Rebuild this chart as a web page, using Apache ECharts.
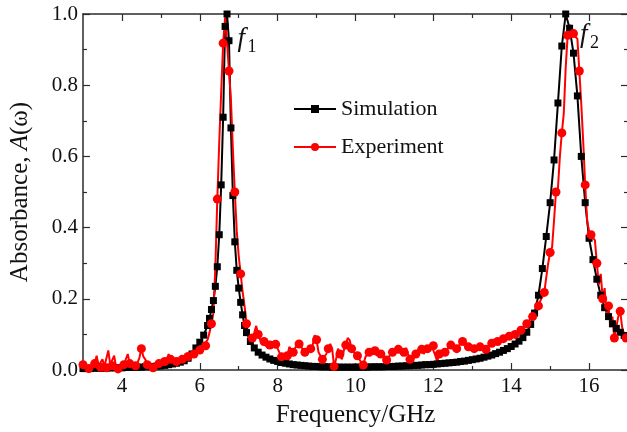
<!DOCTYPE html>
<html>
<head>
<meta charset="utf-8">
<script src="https://cdn.jsdelivr.net/npm/echarts@6/dist/echarts.min.js"></script>
<style>
  html, body { margin: 0; padding: 0; background: #fff; }
  #chart { width: 627px; height: 432px; }
</style>
</head>
<body>
<div id="chart"></div>
<script>
// Simulated absorbance spectrum (frequency in GHz, absorbance 0..1)
const simFreq = [
  3.0, 3.1, 3.2, 3.3, 3.4, 3.5, 3.6, 3.7, 3.8, 3.9,
  4.0, 4.1, 4.2, 4.3, 4.4, 4.5, 4.6, 4.7, 4.8, 4.9,
  5.0, 5.1, 5.2, 5.3, 5.4, 5.5, 5.6, 5.7, 5.8, 5.9,
  6.0, 6.1, 6.2, 6.25, 6.3, 6.35, 6.4, 6.45, 6.5, 6.55, 6.6, 6.65, 6.7, 6.75, 6.8, 6.85, 6.9, 6.95, 7.0, 7.05, 7.1, 7.15, 7.2,
  7.3, 7.4, 7.5, 7.6, 7.7, 7.8, 7.9,
  8.0, 8.1, 8.2, 8.3, 8.4, 8.5, 8.6, 8.7, 8.8, 8.9,
  9.0, 9.1, 9.2, 9.3, 9.4, 9.5, 9.6, 9.7, 9.8, 9.9,
  10.0, 10.1, 10.2, 10.3, 10.4, 10.5, 10.6, 10.7, 10.8, 10.9,
  11.0, 11.1, 11.2, 11.3, 11.4, 11.5, 11.6, 11.7, 11.8, 11.9,
  12.0, 12.1, 12.2, 12.3, 12.4, 12.5, 12.6, 12.7, 12.8, 12.9,
  13.0, 13.1, 13.2, 13.3, 13.4, 13.5, 13.6, 13.7, 13.8, 13.9,
  14.0, 14.1, 14.2, 14.3, 14.4, 14.5, 14.6, 14.7, 14.8, 14.9,
  15.0, 15.1, 15.2, 15.3, 15.4, 15.5, 15.6, 15.7, 15.8, 15.9,
  16.0, 16.1, 16.2, 16.3, 16.4, 16.5, 16.6, 16.7, 16.8, 16.9,
  17.0
];
const simAbs = [
  0.004, 0.004, 0.004, 0.005, 0.005, 0.005, 0.005, 0.006, 0.006, 0.006,
  0.006, 0.007, 0.007, 0.007, 0.008, 0.008, 0.009, 0.010, 0.010, 0.011,
  0.012, 0.013, 0.015, 0.017, 0.019, 0.022, 0.026, 0.033, 0.045, 0.062,
  0.078, 0.098, 0.125, 0.145, 0.170, 0.195, 0.235, 0.290, 0.380, 0.520, 0.710, 0.965, 1.000, 0.925, 0.680, 0.490, 0.360, 0.280, 0.230, 0.190, 0.155, 0.125, 0.105,
  0.080, 0.062, 0.050, 0.042, 0.036, 0.031, 0.027,
  0.024, 0.021, 0.019, 0.017, 0.015, 0.014, 0.013, 0.012, 0.011, 0.010,
  0.010, 0.009, 0.009, 0.009, 0.008, 0.008, 0.008, 0.008, 0.008, 0.008,
  0.008, 0.008, 0.008, 0.008, 0.009, 0.009, 0.009, 0.009, 0.010, 0.010,
  0.010, 0.011, 0.011, 0.012, 0.012, 0.013, 0.013, 0.014, 0.015, 0.015,
  0.016, 0.017, 0.018, 0.019, 0.020, 0.021, 0.022, 0.024, 0.025, 0.027,
  0.029, 0.031, 0.033, 0.036, 0.039, 0.042, 0.046, 0.050, 0.055, 0.060,
  0.066, 0.073, 0.081, 0.091, 0.106, 0.128, 0.160, 0.210, 0.285, 0.375,
  0.470, 0.590, 0.750, 0.910, 1.000, 0.960, 0.890, 0.770, 0.600, 0.470,
  0.370, 0.310, 0.255, 0.210, 0.175, 0.150, 0.130, 0.117, 0.106, 0.097,
  0.090
];

// Measured absorbance, sampled every 0.05 GHz from 3 GHz
const expStart = 3.0;
const expStep = 0.05;
const expAbs = [
  0.015, 0.008, 0.012, 0.004, 0.010, 0.006, 0.018, 0.040, 0.012, 0.008, 0.030, 0.010, 0.006, 0.055, 0.015, 0.012, 0.040, 0.008, 0.003, 0.010,
  0.006, 0.015, 0.020, 0.045, 0.018, 0.010, 0.004, 0.012, 0.020, 0.035, 0.060, 0.038, 0.030, 0.015, 0.008, 0.012, 0.006, 0.010, 0.014, 0.018,
  0.012, 0.020, 0.024, 0.030, 0.045, 0.030, 0.022, 0.020, 0.024, 0.020, 0.026, 0.030, 0.028, 0.034, 0.038, 0.044, 0.047, 0.045, 0.050, 0.054,
  0.056, 0.062, 0.070, 0.068, 0.085, 0.105, 0.130, 0.160, 0.290, 0.480, 0.640, 0.780, 0.918, 0.990, 0.918, 0.840, 0.760, 0.620, 0.500, 0.390,
  0.320, 0.270, 0.220, 0.180, 0.130, 0.095, 0.078, 0.090, 0.105, 0.124, 0.100, 0.085, 0.075, 0.080, 0.068, 0.062, 0.070, 0.075, 0.080, 0.072,
  0.060, 0.048, 0.037, 0.025, 0.014, 0.040, 0.065, 0.060, 0.050, 0.062, 0.070, 0.073, 0.068, 0.055, 0.050, 0.047, 0.055, 0.060, 0.070, 0.098,
  0.085, 0.050, 0.040, 0.030, 0.028, 0.045, 0.060, 0.073, 0.060, 0.010, 0.030, 0.060, 0.045, 0.030, 0.055, 0.070, 0.090, 0.084, 0.060, 0.050,
  0.047, 0.040, 0.030, 0.020, 0.014, 0.035, 0.045, 0.050, 0.045, 0.055, 0.054, 0.040, 0.050, 0.045, 0.047, 0.030, 0.028, 0.035, 0.045, 0.050,
  0.055, 0.048, 0.058, 0.060, 0.040, 0.050, 0.062, 0.045, 0.030, 0.010, 0.035, 0.045, 0.055, 0.050, 0.058, 0.045, 0.040, 0.060, 0.065, 0.070,
  0.068, 0.040, 0.023, 0.045, 0.055, 0.060, 0.050, 0.058, 0.065, 0.070, 0.062, 0.055, 0.060, 0.068, 0.075, 0.080, 0.084, 0.070, 0.065, 0.060,
  0.062, 0.060, 0.055, 0.058, 0.065, 0.070, 0.062, 0.058, 0.068, 0.072, 0.075, 0.078, 0.076, 0.080, 0.085, 0.083, 0.088, 0.090, 0.092, 0.095,
  0.096, 0.098, 0.100, 0.104, 0.108, 0.112, 0.118, 0.124, 0.130, 0.136, 0.145, 0.150, 0.160, 0.170, 0.180, 0.195, 0.205, 0.218, 0.260, 0.300,
  0.330, 0.345, 0.420, 0.500, 0.510, 0.600, 0.666, 0.720, 0.850, 0.940, 0.970, 0.955, 0.945, 0.936, 0.930, 0.840, 0.747, 0.640, 0.520, 0.420,
  0.390, 0.380, 0.372, 0.365, 0.300, 0.240, 0.270, 0.200, 0.230, 0.150, 0.180, 0.120, 0.150, 0.090, 0.120, 0.150, 0.165, 0.120, 0.100, 0.090,
  0.084
];

const seriesNames = ['Simulation', 'Experiment'];
const xMajorTicks = [4, 6, 8, 10, 12, 14, 16];
const xMinorTicks = [5, 7, 9, 11, 13, 15];
const xRange = [3, 17];
const yRange = [0, 1];
const peakNames = [{ main: 'f', sub: '1', freq: 6.97, abs: 0.93 }, { main: 'f', sub: '2', freq: 15.77, abs: 0.94 }];

const FONT = "'Liberation Serif', 'Times New Roman', serif";
const AXIS_COLOR = '#2b2b2b';

const simData = simFreq.map((f, i) => [f, simAbs[i]]);
// Circle markers on every third measured sample
const expData = expAbs.map((v, i) => {
  const f = +(expStart + i * expStep).toFixed(2);
  return i % 3 === 0 ? { value: [f, v] } : { value: [f, v], symbol: 'none' };
});

function xAxisDef(position, ticks, len, showLine, showLabel) {
  return {
    type: 'value', position: position, min: xRange[0], max: xRange[1],
    axisLine: { show: showLine, lineStyle: { color: AXIS_COLOR, width: 1.5 } },
    axisTick: { show: true, inside: true, length: len, customValues: ticks, lineStyle: { color: AXIS_COLOR, width: 1.2 } },
    axisLabel: { show: showLabel, customValues: ticks, margin: 6, color: '#111', fontFamily: FONT, fontSize: 21 },
    splitLine: { show: false }
  };
}
function yAxisDef(position, showLabel) {
  return {
    type: 'value', position: position, min: yRange[0], max: yRange[1], interval: 0.2,
    axisLine: { show: true, lineStyle: { color: AXIS_COLOR, width: 1.5 } },
    axisTick: { show: true, inside: true, length: 7, lineStyle: { color: AXIS_COLOR, width: 1.2 } },
    minorTick: { show: true, splitNumber: 2, length: 4, lineStyle: { color: AXIS_COLOR, width: 1.2 } },
    axisLabel: { show: showLabel, margin: 5, color: '#111', fontFamily: FONT, fontSize: 21, formatter: v => v.toFixed(1) },
    splitLine: { show: false }, minorSplitLine: { show: false }
  };
}

const xAxes = [
  xAxisDef('bottom', xMajorTicks, 7, true, true),
  xAxisDef('bottom', xMinorTicks, 4, false, false),
  xAxisDef('top', xMajorTicks, 7, true, false),
  xAxisDef('top', xMinorTicks, 4, false, false)
];
Object.assign(xAxes[0], {
  name: 'Frequency/GHz', nameLocation: 'middle', nameGap: 33,
  nameTextStyle: { fontFamily: FONT, fontSize: 25, color: '#111' }
});
const yAxes = [yAxisDef('left', true), yAxisDef('right', false)];
Object.assign(yAxes[0], {
  name: 'Absorbance, {i|A}(ω)', nameLocation: 'middle', nameGap: 50,
  nameTextStyle: {
    fontFamily: FONT, fontSize: 25, color: '#111',
    rich: { i: { fontFamily: FONT, fontSize: 25, fontStyle: 'italic', color: '#111' } }
  }
});

const chart = echarts.init(document.getElementById('chart'), null, { renderer: 'canvas' });
chart.setOption({
  animation: false,
  backgroundColor: '#fff',
  grid: { left: 83, top: 14, width: 545, bottom: 62, outerBoundsMode: 'none' },
  xAxis: xAxes,
  yAxis: yAxes,
  legend: {
    left: 293, top: 98, orient: 'vertical', itemWidth: 42, itemHeight: 10, itemGap: 16,
    padding: 0, selectedMode: false, data: seriesNames,
    textStyle: { fontFamily: FONT, fontSize: 22, color: '#111', lineHeight: 22 }
  },
  series: [
    {
      name: seriesNames[0], type: 'line', data: simData, xAxisIndex: 0, yAxisIndex: 0,
      symbol: 'rect', symbolSize: 7, color: '#000',
      lineStyle: { color: '#000', width: 2 }, itemStyle: { color: '#000' }
    },
    {
      name: seriesNames[1], type: 'line', data: expData, xAxisIndex: 0, yAxisIndex: 0,
      symbol: 'circle', symbolSize: 9, color: '#ff0000',
      lineStyle: { color: '#ff0000', width: 2 }, itemStyle: { color: '#ff0000' }
    }
  ]
});

// Peak labels f1, f2 placed next to the two absorption maxima
const labelGraphics = [];
peakNames.forEach(p => {
  const pt = chart.convertToPixel({ xAxisIndex: 0, yAxisIndex: 0 }, [p.freq, p.abs]);
  labelGraphics.push({
    type: 'text', x: pt[0], y: pt[1],
    style: { text: p.main, fontFamily: FONT, fontSize: 27, fontStyle: 'italic', fill: '#111', textAlign: 'left', textVerticalAlign: 'middle' }
  });
  labelGraphics.push({
    type: 'text', x: pt[0] + 10, y: pt[1] + 8,
    style: { text: p.sub, fontFamily: FONT, fontSize: 18, fill: '#111', textAlign: 'left', textVerticalAlign: 'middle' }
  });
});
chart.setOption({ graphic: labelGraphics });
</script>
</body>
</html>
